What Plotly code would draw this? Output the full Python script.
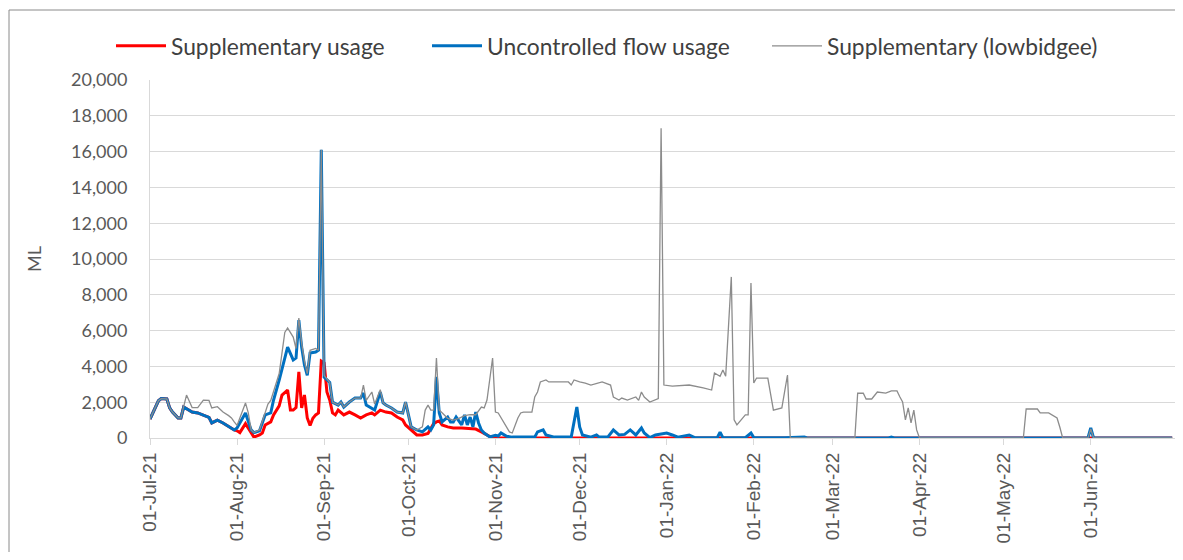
import plotly.graph_objects as go

# ---- Supplementary usage (ML/day)
sup_dates = ["2021-07-01","2021-07-04","2021-07-05","2021-07-07","2021-07-08","2021-07-09","2021-07-11","2021-07-12",
             "2021-07-13","2021-07-16","2021-07-18","2021-07-20","2021-07-22","2021-07-23","2021-07-25","2021-07-27",
             "2021-07-29","2021-07-31","2021-08-01","2021-08-02","2021-08-04","2021-08-06","2021-08-07","2021-08-09",
             "2021-08-10","2021-08-11","2021-08-13","2021-08-14","2021-08-16","2021-08-17","2021-08-19","2021-08-20",
             "2021-08-21","2021-08-22","2021-08-23","2021-08-24","2021-08-25","2021-08-26","2021-08-27","2021-08-28",
             "2021-08-29","2021-08-30","2021-08-31","2021-09-01","2021-09-02","2021-09-03","2021-09-04","2021-09-05",
             "2021-09-06","2021-09-08","2021-09-10","2021-09-12","2021-09-14","2021-09-16","2021-09-18","2021-09-19",
             "2021-09-21","2021-09-23","2021-09-25","2021-09-27","2021-09-29","2021-09-30","2021-10-02","2021-10-04",
             "2021-10-06","2021-10-08","2021-10-10","2021-10-11","2021-10-12","2021-10-13","2021-10-15","2021-10-17",
             "2021-10-20","2021-10-23","2021-10-25","2021-10-27","2021-10-29","2021-10-31","2022-06-30"]
sup_vals = [1060,2080,2200,2180,1680,1450,1120,1120,
            1730,1450,1400,1290,1150,840,1000,840,
            620,450,400,300,800,250,50,170,
            280,730,900,1290,1800,2400,2680,1560,
            1560,1700,3690,1680,2400,1120,700,1100,
            1290,1400,4300,4200,2570,2120,1400,1290,
            1560,1290,1450,1290,1120,1290,1400,1290,
            1560,1450,1400,1170,1010,730,450,170,
            170,250,800,900,950,730,620,560,
            560,500,500,340,150,0,0]

# ---- Uncontrolled flow usage (ML/day)
unc_dates = ["2021-07-01","2021-07-04","2021-07-05","2021-07-07","2021-07-08","2021-07-09","2021-07-11","2021-07-12",
             "2021-07-13","2021-07-16","2021-07-18","2021-07-20","2021-07-22","2021-07-23","2021-07-25","2021-07-27",
             "2021-07-29","2021-07-31","2021-08-01","2021-08-04","2021-08-06","2021-08-07","2021-08-09","2021-08-11",
             "2021-08-13","2021-08-14","2021-08-16","2021-08-18","2021-08-19","2021-08-21","2021-08-22","2021-08-23",
             "2021-08-24","2021-08-25","2021-08-26","2021-08-27","2021-08-29","2021-08-30","2021-08-31","2021-09-01",
             "2021-09-03","2021-09-04","2021-09-06","2021-09-07","2021-09-08","2021-09-10","2021-09-12","2021-09-14",
             "2021-09-15","2021-09-16","2021-09-18","2021-09-19","2021-09-21","2021-09-22","2021-09-23","2021-09-25",
             "2021-09-27","2021-09-29","2021-09-30","2021-10-02","2021-10-04","2021-10-06","2021-10-08","2021-10-09",
             "2021-10-10","2021-10-11","2021-10-12","2021-10-13","2021-10-15","2021-10-16","2021-10-17","2021-10-18",
             "2021-10-20","2021-10-21","2021-10-22","2021-10-23","2021-10-24","2021-10-25","2021-10-26","2021-10-27",
             "2021-10-28","2021-10-30","2021-11-01","2021-11-02","2021-11-03","2021-11-05","2021-11-07","2021-11-15",
             "2021-11-16","2021-11-18","2021-11-19","2021-11-22","2021-11-28","2021-11-30","2021-12-01","2021-12-02",
             "2021-12-05","2021-12-07","2021-12-08","2021-12-11","2021-12-13","2021-12-15","2021-12-17","2021-12-19",
             "2021-12-21","2021-12-23","2021-12-24","2021-12-26","2021-12-28","2022-01-01","2022-01-03","2022-01-05",
             "2022-01-09","2022-01-11","2022-01-19","2022-01-20","2022-01-21","2022-01-29","2022-01-31","2022-02-01",
             "2022-02-12","2022-02-19","2022-02-20","2022-03-21","2022-03-22","2022-03-23","2022-05-31","2022-06-01",
             "2022-06-02","2022-06-30"]
unc_vals = [1060,2080,2200,2180,1680,1450,1120,1120,
            1730,1450,1400,1290,1150,840,1000,840,
            620,450,560,1400,450,300,400,1290,
            1400,2120,3240,4530,5080,4360,4470,6590,
            5080,4080,3500,4750,4800,4900,16100,3400,
            3100,2000,1840,2010,1730,2010,2230,2230,
            2510,1840,1680,1560,2570,1960,1840,1680,
            1450,1400,2010,620,450,340,620,450,
            730,3410,1400,900,1170,900,900,1170,
            730,1290,730,1170,620,1450,840,450,
            280,60,150,110,280,100,50,50,
            340,450,170,50,50,1730,620,170,
            50,170,50,50,450,170,200,450,
            170,560,280,20,170,280,170,50,
            170,20,20,330,20,20,280,20,
            20,60,0,0,50,0,0,560,
            0,0]

# ---- Supplementary (lowbidgee) (ML/day)
low_dates = ["2021-07-01","2021-07-04","2021-07-05","2021-07-07","2021-07-08","2021-07-09","2021-07-11","2021-07-12",
             "2021-07-14","2021-07-16","2021-07-18","2021-07-20","2021-07-22","2021-07-23","2021-07-25","2021-07-27",
             "2021-07-29","2021-07-30","2021-07-31","2021-08-01","2021-08-04","2021-08-05","2021-08-06","2021-08-07",
             "2021-08-09","2021-08-11","2021-08-12","2021-08-13","2021-08-14","2021-08-16","2021-08-18","2021-08-19",
             "2021-08-21","2021-08-22","2021-08-23","2021-08-24","2021-08-25","2021-08-26","2021-08-27","2021-08-29",
             "2021-08-30","2021-08-31","2021-09-01","2021-09-03","2021-09-04","2021-09-06","2021-09-07","2021-09-08",
             "2021-09-10","2021-09-12","2021-09-14","2021-09-15","2021-09-16","2021-09-18","2021-09-19","2021-09-21",
             "2021-09-22","2021-09-23","2021-09-25","2021-09-27","2021-09-29","2021-09-30","2021-10-02","2021-10-04",
             "2021-10-06","2021-10-07","2021-10-08","2021-10-09","2021-10-10","2021-10-11","2021-10-12","2021-10-14",
             "2021-10-15","2021-10-17","2021-10-19","2021-10-21","2021-10-23","2021-10-25","2021-10-27","2021-10-28",
             "2021-10-29","2021-10-31","2021-11-01","2021-11-02","2021-11-03","2021-11-06","2021-11-07","2021-11-09",
             "2021-11-10","2021-11-11","2021-11-14","2021-11-15","2021-11-16","2021-11-17","2021-11-19","2021-11-20",
             "2021-11-27","2021-11-28","2021-11-29","2021-12-01","2021-12-03","2021-12-05","2021-12-09","2021-12-10",
             "2021-12-12","2021-12-13","2021-12-15","2021-12-16","2021-12-18","2021-12-21","2021-12-22","2021-12-23",
             "2021-12-24","2021-12-26","2021-12-28","2021-12-29","2021-12-30","2021-12-31","2022-01-03","2022-01-09",
             "2022-01-14","2022-01-17","2022-01-18","2022-01-20","2022-01-21","2022-01-22","2022-01-24","2022-01-25",
             "2022-01-26","2022-01-27","2022-01-29","2022-01-30","2022-01-31","2022-02-01","2022-02-02","2022-02-06",
             "2022-02-08","2022-02-11","2022-02-13","2022-02-14","2022-03-09","2022-03-10","2022-03-12","2022-03-13",
             "2022-03-15","2022-03-17","2022-03-20","2022-03-22","2022-03-24","2022-03-25","2022-03-26","2022-03-27",
             "2022-03-28","2022-03-29","2022-03-30","2022-03-31","2022-04-01","2022-05-08","2022-05-09","2022-05-13",
             "2022-05-14","2022-05-17","2022-05-20","2022-05-21","2022-05-22","2022-05-31","2022-06-01","2022-06-02",
             "2022-06-30"]
low_vals = [1060,2080,2200,2180,1680,1450,1120,1120,
            2400,1700,1700,2120,2100,1680,1750,1450,
            1250,1120,900,700,1960,1400,450,300,
            450,1400,1900,2100,2600,3600,5900,6150,
            5640,5000,6700,5300,4300,3600,4900,5000,
            4900,16100,3500,3100,2000,1840,2010,1730,
            2010,2230,2230,2960,2100,2570,1900,2700,
            1960,1840,1680,1450,1400,2010,620,450,
            620,1560,1840,1560,1560,4470,1560,1290,
            1100,1000,1100,1250,1300,1300,1730,1680,
            2120,4470,1450,1400,1120,340,280,1120,
            1400,1450,1450,2290,2570,3130,3240,3130,
            3130,2960,3240,3130,3070,2960,3130,3070,
            2960,2290,2120,2230,2120,2290,2100,2570,
            2290,2010,2120,2200,17300,2960,2900,2960,
            2800,2680,3630,3450,3800,3450,9000,1010,
            730,900,1290,1290,8660,3070,3350,3350,
            1560,1680,3520,0,0,2510,2500,2180,
            2180,2570,2510,2630,2630,2300,2010,1010,
            1680,840,1560,450,0,0,1620,1620,
            1400,1400,1120,600,0,0,500,0,
            0]

series_names = ["Supplementary usage", "Uncontrolled flow usage", "Supplementary (lowbidgee)"]
y_title = "ML"

fig = go.Figure()
fig.add_trace(go.Scatter(x=sup_dates, y=sup_vals, mode="lines", name=series_names[0],
                         line=dict(color="#FF0000", width=3), legend="legend"))
fig.add_trace(go.Scatter(x=unc_dates, y=unc_vals, mode="lines", name=series_names[1],
                         line=dict(color="#0070C0", width=3), legend="legend2"))
fig.add_trace(go.Scatter(x=low_dates, y=low_vals, mode="lines", name=series_names[2],
                         line=dict(color="#8C8C8C", width=1.3), legend="legend3"))

# The page body adds an 8px offset; the figure is sized to fill the window from there.
OFF = 8
W, H = 1183 - OFF, 560 - 2 * OFF
PL, PR, PT, PB = 150, 1175, 80, 438          # plot area in window pixels
L, R, T, B = PL - OFF, (W + OFF) - PR, PT - OFF, (H + OFF) - PB
pw, ph = PR - PL, PB - PT

def px(xp):   # window pixel -> paper x
    return (xp - PL) / pw

def py(yp):   # window pixel -> paper y
    return (PB - yp) / ph

def leg(xp):
    return dict(orientation="h", x=px(xp), y=py(46), xanchor="left", yanchor="middle",
                font=dict(size=22.8, color="#404040", family="Lato"),
                itemwidth=50, bgcolor="rgba(0,0,0,0)", itemclick=False)

frame_col = "#8A8A8A"
fig.update_layout(
    width=W, height=H,
    margin=dict(l=L, r=R, t=T, b=B, autoexpand=False),
    paper_bgcolor="white", plot_bgcolor="white",
    font=dict(family="Lato, Liberation Sans, sans-serif", color="#595959"),
    showlegend=True,
    legend=leg(111), legend2=leg(427), legend3=leg(767),
    xaxis=dict(type="date", range=["2021-07-01", "2022-07-01"], automargin=False,
               tick0="2021-07-01", dtick="M1", tickformat="%d-%b-%y",
               tickangle=-90, showgrid=False, showline=True, linecolor="#D9D9D9", linewidth=1,
               ticks="outside", ticklen=6, tickcolor="#D9D9D9",
               tickfont=dict(family="Liberation Sans, Arial", size=19, color="#595959"),
               zeroline=False),
    yaxis=dict(range=[0, 20000], dtick=2000, tickformat=",", showgrid=True, automargin=False,
               gridcolor="#D9D9D9", gridwidth=1, showline=True, linecolor="#D9D9D9",
               ticks="", ticklabelstandoff=18, zeroline=False,
               tickfont=dict(family="Lato", size=18, color="#595959"),
               title=dict(text=y_title, font=dict(family="Lato", size=18, color="#595959"), standoff=24)),
    shapes=[dict(type="line", xref="paper", yref="paper", x0=px(9), x1=px(1183), y0=py(10), y1=py(10),
                 line=dict(color=frame_col, width=1), layer="below"),
            dict(type="line", xref="paper", yref="paper", x0=px(9), x1=px(9), y0=py(10), y1=py(560),
                 line=dict(color=frame_col, width=1), layer="below")],
)

fig.write_html("out.html")
